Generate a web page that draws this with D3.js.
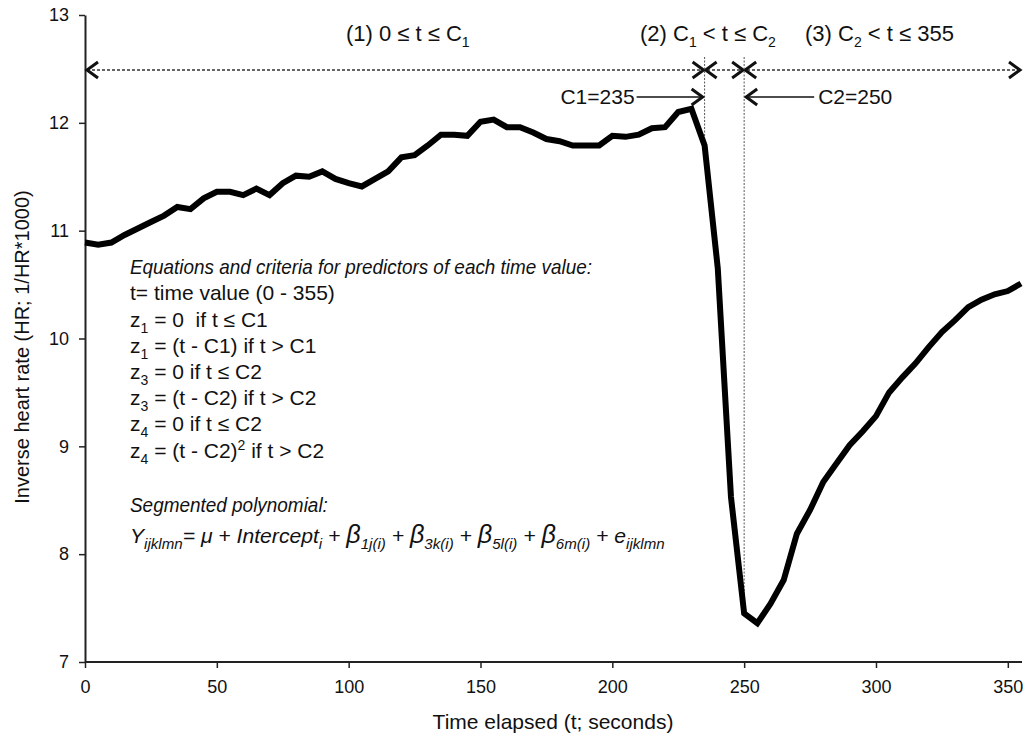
<!DOCTYPE html>
<html>
<head>
<meta charset="utf-8">
<script src="https://cdn.jsdelivr.net/npm/d3@7"></script>
<style>
  body { margin: 0; background: #fff; }
  svg { display: block; font-family: "Liberation Sans", Arial, sans-serif; }
</style>
</head>
<body>
<svg id="chart" width="1034" height="740"></svg>
<script>
// Time stamps (seconds) of the averaged inverse heart-rate record
const times = [
  0, 5, 10, 15, 20, 25, 30, 35, 40, 45, 50, 55, 60, 65, 70, 75, 80, 85, 90, 95,
  100, 105, 110, 115, 120, 125, 130, 135, 140, 145, 150, 155, 160, 165, 170, 175,
  180, 185, 190, 195, 200, 205, 210, 215, 220, 225, 230, 235, 240, 245, 250, 255,
  260, 265, 270, 275, 280, 285, 290, 295, 300, 305, 310, 315, 320, 325, 330, 335,
  340, 345, 350, 355
];
// Inverse heart rate (1/HR*1000)
const inverseHR = [
  10.89, 10.87, 10.89, 10.96, 11.02, 11.08, 11.14, 11.22, 11.20, 11.30, 11.36, 11.36,
  11.33, 11.39, 11.33, 11.44, 11.51, 11.50, 11.55, 11.48, 11.44, 11.41, 11.48, 11.55,
  11.68, 11.70, 11.79, 11.89, 11.89, 11.88, 12.01, 12.03, 11.96, 11.96, 11.91, 11.85,
  11.83, 11.79, 11.79, 11.79, 11.88, 11.87, 11.89, 11.95, 11.96, 12.10, 12.13, 11.79,
  10.65, 8.53, 7.45, 7.36, 7.54, 7.76, 8.19, 8.41, 8.67, 8.84, 9.01, 9.14,
  9.28, 9.50, 9.64, 9.77, 9.92, 10.06, 10.17, 10.29, 10.36, 10.41, 10.44, 10.51
];
const xTicks = [0, 50, 100, 150, 200, 250, 300, 350];
const yTicks = [7, 8, 9, 10, 11, 12, 13];
// Segment break points and the end of the record
const breakC1 = 235;
const breakC2 = 250;
const tEnd = 355;

const svg = d3.select("#chart");
const x = d3.scaleLinear().domain([0, 355]).range([85, 1021]);
const y = d3.scaleLinear().domain([7, 13]).range([662, 15]);

const TICK_FONT = 18, TEXT_FONT = 21, SUB_FONT = 14;

// Axes
const gx = svg.append("g").attr("transform", `translate(0,${y(7)})`)
  .call(d3.axisBottom(x).tickValues(xTicks).tickFormat(d3.format("d"))
    .tickSize(6).tickSizeOuter(0).tickPadding(12));
const gy = svg.append("g").attr("transform", `translate(${x(0)},0)`)
  .call(d3.axisLeft(y).tickValues(yTicks).tickFormat(d3.format("d"))
    .tickSize(6).tickSizeOuter(0).tickPadding(10));
[gx, gy].forEach(g => {
  g.select(".domain").attr("stroke", "#222").attr("stroke-width", 2);
  g.selectAll(".tick line").attr("stroke", "#222").attr("stroke-width", 1.5);
  g.selectAll(".tick text").attr("font-size", TICK_FONT).attr("fill", "#111")
    .attr("font-family", '"Liberation Sans", Arial, sans-serif');
});
// extend x axis line to the end of the record
gx.select(".domain").attr("d", `M${x(0)},0H${x(tEnd) + 1}`);

// Axis titles
svg.append("text")
  .attr("transform", `translate(29,347) rotate(-90)`)
  .attr("text-anchor", "middle").attr("font-size", 20).attr("fill", "#111")
  .text("Inverse heart rate (HR; 1/HR*1000)");
svg.append("text")
  .attr("x", 553).attr("y", 729)
  .attr("text-anchor", "middle").attr("font-size", TEXT_FONT).attr("fill", "#111")
  .text("Time elapsed (t; seconds)");

// Rich text helper: parts are strings or {sub}/{sup}/{big} objects.
// Baseline shifts are carried over to the next run, so no empty runs are made.
function rich(xp, yp, parts, opts = {}) {
  const size = opts.size || TEXT_FONT;
  const small = opts.subSize || SUB_FONT;
  const t = svg.append("text").attr("x", xp).attr("y", yp)
    .attr("font-size", size).attr("fill", "#111")
    .attr("text-anchor", opts.anchor || "start")
    .style("white-space", "pre");
  if (opts.italic) t.attr("font-style", "italic");
  let shift = 0; // current offset from the baseline
  parts.forEach(p => {
    let text, target = 0, fs = null;
    if (typeof p === "string") { text = p; }
    else if (p.sub !== undefined) { text = p.sub; target = 6; fs = small; }
    else if (p.sup !== undefined) { text = p.sup; target = -8; fs = small; }
    else if (p.big !== undefined) { text = p.big; fs = size + 4; }
    const span = t.append("tspan").text(text);
    if (target !== shift) { span.attr("dy", target - shift); shift = target; }
    if (fs) span.attr("font-size", fs);
  });
  // optional horizontal fit: squeeze/stretch the line to a set width
  if (opts.width) {
    const w = t.node().getBBox().width;
    const k = opts.width / w;
    t.attr("transform", `translate(${xp},0) scale(${k},1) translate(${-xp},0)`);
  }
  return t;
}

// Segment headers
rich(346, 41, ["(1) 0 \u2264 t \u2264 C", {sub: "1"}], {size: 22});
rich(640, 41, ["(2) C", {sub: "1"}, " < t \u2264 C", {sub: "2"}], {size: 22});
rich(805, 41, ["(3) C", {sub: "2"}, " < t \u2264 355"], {size: 22});

// Chevron arrowheads
function chevron(tipX, tipY, dir) {
  svg.append("path")
    .attr("d", `M${tipX - dir * 11},${tipY - 8}L${tipX},${tipY}L${tipX - dir * 11},${tipY + 8}`)
    .attr("fill", "none").attr("stroke", "#111").attr("stroke-width", 3)
    .attr("stroke-linejoin", "miter");
}

const yDot = 70;
const xc1 = x(breakC1), xc2 = x(breakC2);
// dotted span line
svg.append("line").attr("x1", x(0) + 2).attr("x2", x(tEnd) - 2)
  .attr("y1", yDot).attr("y2", yDot)
  .attr("stroke", "#333").attr("stroke-width", 1.6).attr("stroke-dasharray", "3,2");
chevron(x(0) + 2, yDot, -1);
chevron(xc1 - 1, yDot, 1);
chevron(xc1 + 1, yDot, -1);
chevron(xc2 - 1, yDot, 1);
chevron(xc2 + 1, yDot, -1);
chevron(x(tEnd) - 1, yDot, 1);

// vertical break lines
svg.append("line").attr("x1", xc1).attr("x2", xc1).attr("y1", 57).attr("y2", y(11.79))
  .attr("stroke", "#555").attr("stroke-width", 1).attr("stroke-dasharray", "2,1.5");
svg.append("line").attr("x1", xc2).attr("x2", xc2).attr("y1", 57).attr("y2", 606)
  .attr("stroke", "#555").attr("stroke-width", 1).attr("stroke-dasharray", "2,1.5");

// C1 / C2 call-outs
const yCall = 97;
svg.append("line").attr("x1", xc1 - 68).attr("x2", xc1 - 3).attr("y1", yCall).attr("y2", yCall)
  .attr("stroke", "#111").attr("stroke-width", 1.6);
chevron(xc1 - 2, yCall, 1);
svg.append("text").attr("x", xc1 - 70).attr("y", yCall + 7).attr("text-anchor", "end")
  .attr("font-size", TEXT_FONT).attr("fill", "#111").text("C1=" + breakC1);
svg.append("line").attr("x1", xc2 + 3).attr("x2", xc2 + 70).attr("y1", yCall).attr("y2", yCall)
  .attr("stroke", "#111").attr("stroke-width", 1.6);
chevron(xc2 + 2, yCall, -1);
svg.append("text").attr("x", xc2 + 74).attr("y", yCall + 7)
  .attr("font-size", TEXT_FONT).attr("fill", "#111").text("C2=" + breakC2);

// Data line
const series = times.map((t, i) => ({ t, v: inverseHR[i] }));
svg.append("path").datum(series)
  .attr("d", d3.line().x(d => x(d.t)).y(d => y(d.v)))
  .attr("fill", "none").attr("stroke", "#000").attr("stroke-width", 6)
  .attr("stroke-linejoin", "miter").attr("stroke-miterlimit", 4);

// Equation block
const ex = 130;
rich(ex, 274, ["Equations and criteria for predictors of each time value:"], {italic: true, width: 462});
rich(ex, 300, ["t= time value (0 - 355)"]);
rich(ex, 327, ["z", {sub: "1"}, " = 0  if t \u2264 C1"]);
rich(ex, 353, ["z", {sub: "1"}, " = (t - C1) if t > C1"]);
rich(ex, 379, ["z", {sub: "3"}, " = 0 if t \u2264 C2"]);
rich(ex, 405, ["z", {sub: "3"}, " = (t - C2) if t > C2"]);
rich(ex, 431, ["z", {sub: "4"}, " = 0 if t \u2264 C2"]);
rich(ex, 458, ["z", {sub: "4"}, " = (t - C2)", {sup: "2"}, " if t > C2"]);
rich(ex, 512, ["Segmented polynomial:"], {italic: true, width: 198});
rich(ex, 543, [
  "Y", {sub: "ijklmn"}, "= \u03bc + Intercept", {sub: "i"},
  " + ", {big: "\u03b2"}, {sub: "1j(i)"}, " + ", {big: "\u03b2"}, {sub: "3k(i)"},
  " + ", {big: "\u03b2"}, {sub: "5l(i)"}, " + ", {big: "\u03b2"}, {sub: "6m(i)"},
  " + e", {sub: "ijklmn"}
], {italic: true, subSize: 15, width: 535});
</script>
</body>
</html>
